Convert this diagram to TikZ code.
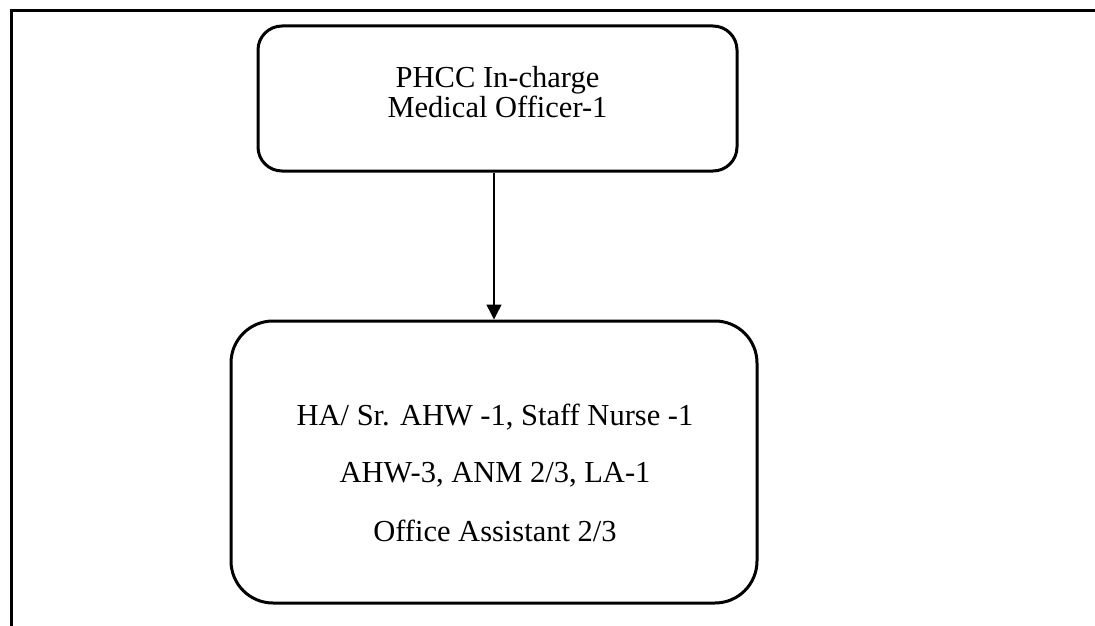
\documentclass[tikz,border=0pt]{standalone}
\usepackage{fontspec}
\setmainfont{Liberation Serif}
\usetikzlibrary{arrows.meta}
\tikzset{
  box/.style={draw=black, line width=3pt, inner sep=0pt},
  txt/.style={anchor=base, inner sep=0pt, font=\fontsize{30.5}{36}\selectfont},
  conn/.style={draw=black, line width=1.5pt, -{Triangle[width=15pt,length=15pt]}},
  frame/.style={draw=black, line width=3pt}
}
\begin{document}
\begin{tikzpicture}[x=1pt,y=-1pt]
\useasboundingbox (0,0) rectangle (1095,626);
% frame
\coordinate (fbl) at (11,628);
\coordinate (ftl) at (11,11);
\coordinate (ftr) at (1097,11);
\draw[frame] (fbl) -- (ftl) -- (ftr);
% boxes
\node[box, rounded corners=24pt, minimum width=479pt, minimum height=145pt] (top) at (497.5,98.5) {};
\node[box, rounded corners=42pt, minimum width=526pt, minimum height=282pt] (bot) at (494,462) {};
% texts
\node[txt] (t1) at (497.5,88) {PHCC In-charge};
\node[txt] (t2) at (497.5,117) {Medical Officer-1};
\node[txt] (b1) at (495,425) {HA/ Sr. AHW -1, Staff Nurse -1};
\node[txt] (b2) at (495,482) {AHW-3, ANM 2/3, LA-1};
\node[txt] (b3) at (495,541) {Office Assistant 2/3};
% connector
\draw[conn] (top.south -| bot.north) -- (bot.north);
\end{tikzpicture}
\end{document}
